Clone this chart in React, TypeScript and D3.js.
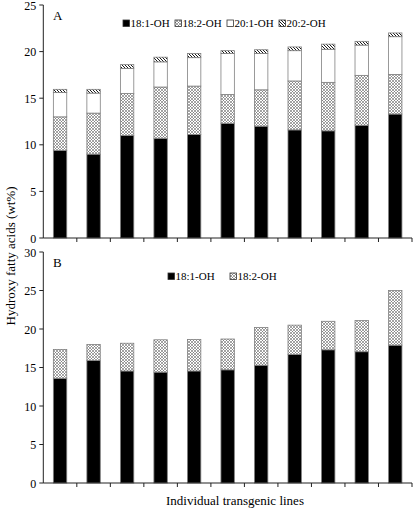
import React from "react";
import * as d3 from "d3";

const categories = ["L1", "L2", "L3", "L4", "L5", "L6", "L7", "L8", "L9", "L10", "L11"];
const seriesA = ["18:1-OH", "18:2-OH", "20:1-OH", "20:2-OH"];
const a181 = [9.4, 9.0, 11.0, 10.7, 11.1, 12.3, 12.0, 11.6, 11.5, 12.1, 13.3];
const a182 = [3.6, 4.4, 4.5, 5.5, 5.2, 3.1, 3.9, 5.25, 5.2, 5.35, 4.25];
const a201 = [2.6, 2.15, 2.7, 2.7, 3.05, 4.4, 3.9, 3.25, 3.55, 3.25, 4.05];
const a202 = [0.35, 0.4, 0.4, 0.5, 0.45, 0.3, 0.4, 0.4, 0.55, 0.4, 0.4];
const seriesB = ["18:1-OH", "18:2-OH"];
const b181 = [13.6, 15.9, 14.55, 14.4, 14.55, 14.7, 15.3, 16.7, 17.3, 17.05, 17.9];
const b182 = [3.75, 2.1, 3.6, 4.2, 4.1, 4.0, 4.9, 3.8, 3.7, 4.05, 7.1];
const ticksA = [0, 5, 10, 15, 20, 25];
const ticksB = [0, 5, 10, 15, 20, 25, 30];

const FONT = "'Liberation Serif', 'Times New Roman', serif";
const fills = ["#000", "url(#cross)", "#fff", "url(#diag)"];

function Panel({ values, series, yTop, yBottom, maxV, ticks, label, legendX, legendY, legendStep }: any) {
  const x = d3.scaleBand().domain(categories).range([43.3, 412]).paddingInner(0.6).paddingOuter(0.3);
  const y = d3.scaleLinear().domain([0, maxV]).range([yBottom, yTop]);
  const rows = categories.map((c, i) => {
    const o: any = { cat: c };
    series.forEach((s: string, k: number) => (o[s] = values[k][i]));
    return o;
  });
  const stacked = d3.stack().keys(series)(rows);
  const step = x.step();
  const x0 = x.range()[0];
  return (
    <g>
      {stacked.map((layer: any, k: number) =>
        layer.map((d: any, i: number) => (
          <rect
            key={k + "-" + i}
            x={x(categories[i])}
            y={y(d[1])}
            width={x.bandwidth()}
            height={y(d[0]) - y(d[1])}
            fill={fills[k]}
            stroke="#808080"
            strokeWidth={0.8}
          />
        ))
      )}
      <line x1={x0} x2={x0} y1={yTop} y2={yBottom} stroke="#222" />
      <line x1={x0} x2={412} y1={yBottom} y2={yBottom} stroke="#222" />
      {ticks.map((t: number) => (
        <g key={t}>
          <line x1={x0 - 4} x2={x0} y1={y(t)} y2={y(t)} stroke="#222" />
          <text x={x0 - 7} y={y(t) + 4.5} textAnchor="end" fontSize={12} fontFamily={FONT}>
            {t}
          </text>
        </g>
      ))}
      {d3.range(1, categories.length + 1).map((i) => (
        <line key={i} x1={x0 + i * step} x2={x0 + i * step} y1={yBottom} y2={yBottom + 4} stroke="#222" />
      ))}
      <text x={53} y={yTop + 15} fontSize={13} fontFamily={FONT}>
        {label}
      </text>
      {series.map((s: string, k: number) => {
        const px = legendX + k * legendStep;
        return (
          <g key={s}>
            <rect x={px} y={legendY - 7} width={6.5} height={6.5} fill={fills[k]} stroke="#333" strokeWidth={0.8} />
            <text x={px + 7.5} y={legendY} fontSize={11} fontFamily={FONT}>
              {s}
            </text>
          </g>
        );
      })}
    </g>
  );
}

export default function App() {
  return (
    <svg width={415} height={511} style={{ position: "absolute", left: 0, top: 0, background: "#fff" }}>
      <defs>
        <pattern id="cross" patternUnits="userSpaceOnUse" width={3} height={3}>
          <rect width={3} height={3} fill="#fff" />
          <path d="M0,0 L3,3 M3,0 L0,3" stroke="#666" strokeWidth={0.6} />
        </pattern>
        <pattern id="diag" patternUnits="userSpaceOnUse" width={3} height={3}>
          <rect width={3} height={3} fill="#fff" />
          <path d="M0,0 L3,3 M-1,2 L1,4 M2,-1 L4,1" stroke="#000" strokeWidth={0.9} />
        </pattern>
      </defs>
      <Panel
        values={[a181, a182, a201, a202]}
        series={seriesA}
        yTop={5}
        yBottom={238}
        maxV={25}
        ticks={ticksA}
        label="A"
        legendX={123}
        legendY={27}
        legendStep={52}
      />
      <Panel
        values={[b181, b182]}
        series={seriesB}
        yTop={252}
        yBottom={483}
        maxV={30}
        ticks={ticksB}
        label="B"
        legendX={168}
        legendY={280}
        legendStep={62}
      />
      <text
        transform="translate(15,256) rotate(-90)"
        textAnchor="middle"
        fontSize={13}
        fontFamily={FONT}
      >
        Hydroxy fatty acids (wt%)
      </text>
      <text x={235} y={505} textAnchor="middle" fontSize={13} fontFamily={FONT}>
        Individual transgenic lines
      </text>
    </svg>
  );
}
